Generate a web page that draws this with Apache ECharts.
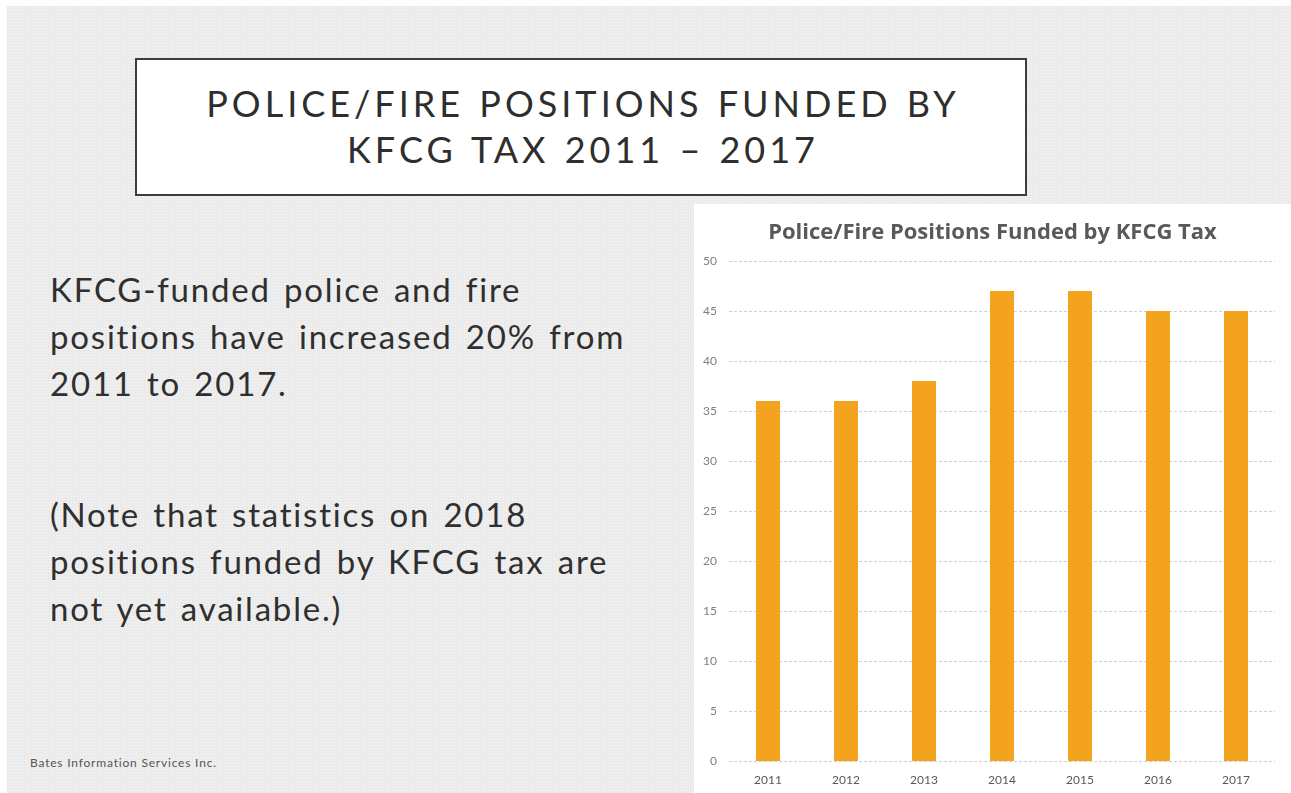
<!DOCTYPE html>
<html>
<head>
<meta charset="utf-8">
<script src="https://cdn.jsdelivr.net/npm/echarts@6/dist/echarts.min.js"></script>
<style>
  html, body { margin: 0; padding: 0; background: #ffffff; }
  body { width: 1291px; height: 793px; position: relative; overflow: hidden; font-family: Lato, "Open Sans", sans-serif; }
  .slide {
    position: absolute; left: 7px; top: 6px; right: 0; bottom: 0;
    background-color: #ebebeb;
    background-image: radial-gradient(circle, #f7f7f7 0.7px, transparent 1px);
    background-size: 3px 3px;
  }
  .title-box {
    position: absolute; left: 135px; top: 58px; width: 888px; height: 134px;
    background: #ffffff; border: 2.5px solid #3c3c3c;
  }
  .title-text {
    position: absolute; left: 0; right: 0; top: 20px; text-align: center;
    font-size: 36px; line-height: 46px; color: #2e2e2e;
    letter-spacing: 4px; word-spacing: 2px; padding-left: 4px;
  }
  .body-text {
    position: absolute; left: 50px; font-size: 33px; line-height: 47px; color: #2f2f2f;
    letter-spacing: 1.8px; word-spacing: 3px;
  }
  .footer {
    position: absolute; left: 30px; top: 755px; font-size: 12px; color: #555555; letter-spacing: 0.8px;
  }
  #chart {
    position: absolute; left: 694px; top: 204px; width: 597px; height: 589px; background: #ffffff;
  }
</style>
</head>
<body>
<div class="slide"></div>
<div class="title-box">
  <div class="title-text">POLICE/FIRE POSITIONS FUNDED BY<br>KFCG TAX 2011 – 2017</div>
</div>
<div class="body-text" style="top:266px;">KFCG-funded police and fire<br>positions have increased 20% from<br>2011 to 2017.</div>
<div class="body-text" style="top:491px;">(Note that statistics on 2018<br>positions funded by KFCG tax are<br>not yet available.)</div>
<div class="footer">Bates Information Services Inc.</div>
<div id="chart"></div>
<script>
// Police/fire positions funded by the KFCG tax, per year
const years = ['2011', '2012', '2013', '2014', '2015', '2016', '2017'];
const positions = [36, 36, 38, 47, 47, 45, 45];
const yTicks = { min: 0, max: 50, interval: 5 };
const chartTitle = 'Police/Fire Positions Funded by KFCG Tax';

const chart = echarts.init(document.getElementById('chart'), null, { renderer: 'canvas' });
chart.setOption({
  backgroundColor: '#ffffff',
  animation: false,
  title: {
    text: chartTitle,
    left: 'center',
    top: 13,
    textStyle: { fontFamily: '"Open Sans"', fontWeight: 'bold', fontSize: 22, color: '#595959' }
  },
  grid: { left: 35, right: 16, top: 57, bottom: 32, containLabel: false },
  xAxis: {
    type: 'category',
    data: years,
    axisLine: { show: false },
    axisTick: { show: false },
    axisLabel: { color: '#595959', fontFamily: 'Lato', fontSize: 12, margin: 13 }
  },
  yAxis: {
    type: 'value',
    min: yTicks.min,
    max: yTicks.max,
    interval: yTicks.interval,
    axisLine: { show: false },
    axisTick: { show: false },
    axisLabel: { color: '#7f7f7f', fontFamily: 'Lato', fontSize: 12, margin: 12 },
    splitLine: { lineStyle: { color: '#d0d0d0', width: 1, type: [3, 2] } }
  },
  series: [{
    type: 'bar',
    data: positions,
    barWidth: 24,
    itemStyle: { color: '#f4a31f' }
  }]
});
</script>
</body>
</html>
